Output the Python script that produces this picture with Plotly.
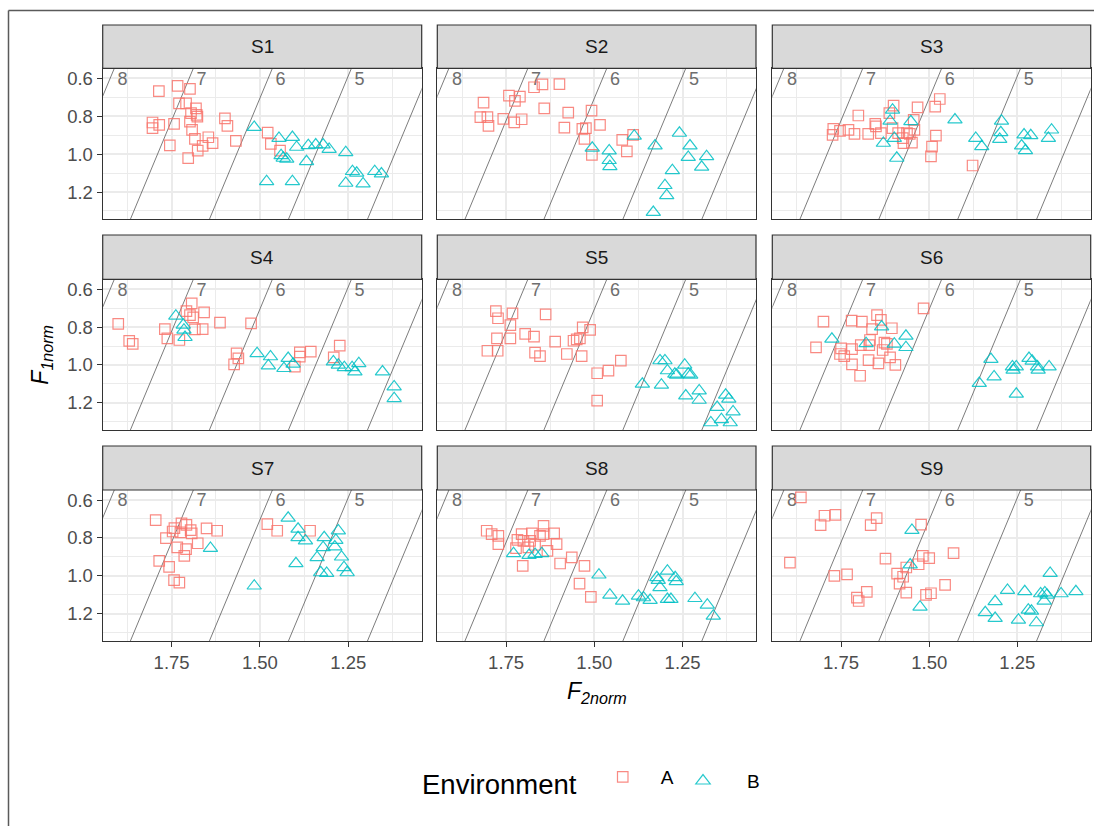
import plotly.graph_objects as go

# ---------------------------------------------------------------------------
# Normalised formant data per speaker (S1..S9) and environment (A / B)
# ---------------------------------------------------------------------------
speakers = ["S1", "S2", "S3", "S4", "S5", "S6", "S7", "S8", "S9"]
environments = ["A", "B"]

S1_A_F2 = [1.786, 1.733, 1.698, 1.729, 1.709, 1.681, 1.695, 1.679, 1.677, 1.804, 1.804, 1.785, 1.743, 1.698,
           1.692, 1.684, 1.755, 1.703, 1.676, 1.662, 1.646, 1.634, 1.599, 1.592, 1.568, 1.478, 1.469, 1.443]
S1_A_F1 = [0.667, 0.640, 0.656, 0.732, 0.732, 0.758, 0.784, 0.793, 0.802, 0.833, 0.863, 0.846, 0.840, 0.828,
           0.872, 0.919, 0.954, 1.021, 0.982, 0.956, 0.911, 0.942, 0.811, 0.851, 0.930, 0.886, 0.946, 0.982]
S1_B_F2 = [1.516, 1.446, 1.408, 1.396, 1.363, 1.342, 1.321, 1.304, 1.257, 1.440, 1.434, 1.424, 1.368, 1.481,
           1.408, 1.238, 1.226, 1.257, 1.208, 1.175, 1.156]
S1_B_F1 = [0.858, 0.916, 0.911, 0.963, 0.954, 0.951, 0.951, 0.974, 0.991, 1.007, 1.021, 1.026, 1.039, 1.144,
           1.144, 1.091, 1.100, 1.153, 1.156, 1.091, 1.104]

S2_A_F2 = [1.814, 1.823, 1.803, 1.800, 1.742, 1.725, 1.711, 1.758, 1.727, 1.706, 1.671, 1.647, 1.599, 1.642,
           1.574, 1.508, 1.585, 1.534, 1.524, 1.484, 1.528, 1.507, 1.421, 1.390, 1.408]
S2_A_F1 = [0.728, 0.805, 0.805, 0.851, 0.691, 0.719, 0.696, 0.814, 0.832, 0.816, 0.647, 0.632, 0.630, 0.758,
           0.781, 0.770, 0.860, 0.867, 0.863, 0.846, 0.919, 1.004, 0.925, 0.898, 0.986]
S2_B_F2 = [1.506, 1.458, 1.458, 1.456, 1.387, 1.328, 1.259, 1.229, 1.234, 1.182, 1.196, 1.279, 1.300, 1.295, 1.333]
S2_B_F1 = [0.968, 0.982, 1.033, 1.065, 0.904, 0.956, 0.889, 0.956, 1.016, 1.012, 1.068, 1.086, 1.165, 1.218, 1.307]

S3_A_F2 = [1.470, 1.483, 1.533, 1.601, 1.613, 1.701, 1.772, 1.774, 1.753, 1.729, 1.712, 1.673, 1.653, 1.651,
           1.637, 1.604, 1.588, 1.575, 1.563, 1.549, 1.573, 1.544, 1.542, 1.481, 1.492, 1.495, 1.377, 1.555]
S3_A_F1 = [0.709, 0.749, 0.753, 0.744, 0.784, 0.796, 0.867, 0.898, 0.877, 0.872, 0.893, 0.893, 0.840, 0.854,
           0.889, 0.863, 0.889, 0.916, 0.889, 0.939, 0.942, 0.819, 0.872, 0.902, 0.960, 1.012, 1.060, 0.893]
S3_B_F2 = [1.604, 1.611, 1.552, 1.599, 1.630, 1.592, 1.427, 1.368, 1.351, 1.295, 1.297, 1.300, 1.231, 1.212,
           1.238, 1.227, 1.153, 1.162]
S3_B_F1 = [0.767, 0.825, 0.828, 0.916, 0.942, 1.021, 0.819, 0.916, 0.960, 0.825, 0.886, 0.921, 0.898, 0.902,
           0.956, 0.981, 0.872, 0.916]

S4_A_F2 = [1.901, 1.870, 1.860, 1.769, 1.762, 1.728, 1.708, 1.693, 1.698, 1.689, 1.658, 1.684, 1.662, 1.613,
           1.525, 1.566, 1.561, 1.573, 1.387, 1.387, 1.356, 1.401, 1.274, 1.291]
S4_A_F1 = [0.783, 0.873, 0.889, 0.810, 0.859, 0.868, 0.715, 0.674, 0.736, 0.748, 0.722, 0.812, 0.810, 0.776,
           0.780, 0.939, 0.965, 0.997, 0.933, 0.956, 0.930, 1.009, 0.898, 0.960]
S4_B_F2 = [1.738, 1.717, 1.715, 1.712, 1.508, 1.470, 1.476, 1.420, 1.432, 1.406, 1.292, 1.278, 1.261, 1.239,
           1.231, 1.220, 1.153, 1.120, 1.120]
S4_B_F1 = [0.741, 0.789, 0.815, 0.854, 0.939, 0.956, 1.004, 0.965, 1.018, 0.995, 0.983, 1.000, 1.013, 1.013,
           1.036, 0.992, 1.036, 1.115, 1.177]

S5_A_F2 = [1.779, 1.773, 1.732, 1.738, 1.638, 1.776, 1.738, 1.803, 1.774, 1.696, 1.671, 1.668, 1.654, 1.611,
           1.578, 1.559, 1.550, 1.541, 1.533, 1.512, 1.536, 1.492, 1.460, 1.425, 1.492]
S5_A_F1 = [0.715, 0.753, 0.727, 0.789, 0.732, 0.859, 0.859, 0.925, 0.925, 0.836, 0.850, 0.935, 0.953, 0.877,
           0.942, 0.872, 0.865, 0.859, 0.801, 0.815, 0.953, 1.044, 1.030, 0.977, 1.189]
S5_B_F2 = [1.314, 1.300, 1.293, 1.272, 1.267, 1.244, 1.234, 1.227, 1.364, 1.310, 1.241, 1.203, 1.203, 1.128,
           1.119, 1.152, 1.107, 1.170, 1.140, 1.115]
S5_B_F1 = [0.977, 0.977, 1.030, 1.048, 1.053, 1.000, 1.048, 1.053, 1.101, 1.106, 1.163, 1.136, 1.186, 1.159,
           1.180, 1.224, 1.247, 1.305, 1.288, 1.305]

S6_A_F2 = [1.516, 1.800, 1.720, 1.691, 1.648, 1.637, 1.662, 1.606, 1.668, 1.694, 1.821, 1.750, 1.753, 1.741,
           1.719, 1.670, 1.627, 1.620, 1.632, 1.611, 1.672, 1.644, 1.596, 1.719, 1.696]
S6_A_F1 = [0.701, 0.771, 0.766, 0.771, 0.736, 0.762, 0.810, 0.806, 0.868, 0.895, 0.907, 0.912, 0.942, 0.953,
           0.916, 0.895, 0.882, 0.889, 0.921, 0.960, 0.974, 0.992, 1.000, 0.997, 1.057]
S6_B_F2 = [1.776, 1.679, 1.635, 1.599, 1.566, 1.566, 1.325, 1.358, 1.316, 1.264, 1.262, 1.253, 1.253, 1.217,
           1.208, 1.193, 1.191, 1.160]
S6_B_F1 = [0.863, 0.886, 0.798, 0.889, 0.847, 0.907, 0.970, 1.097, 1.062, 1.009, 1.027, 1.009, 1.154, 0.965,
           0.979, 1.009, 1.027, 1.009]

S7_A_F2 = [1.795, 1.742, 1.747, 1.722, 1.708, 1.696, 1.693, 1.766, 1.725, 1.734, 1.709, 1.714, 1.785, 1.757,
           1.743, 1.728, 1.676, 1.651, 1.621, 1.479, 1.451, 1.358]
S7_A_F1 = [0.706, 0.748, 0.766, 0.723, 0.731, 0.759, 0.776, 0.801, 0.771, 0.850, 0.859, 0.895, 0.921, 0.953,
           1.023, 1.036, 0.828, 0.750, 0.762, 0.727, 0.762, 0.762]
S7_B_F2 = [1.640, 1.516, 1.420, 1.392, 1.392, 1.371, 1.398, 1.318, 1.321, 1.278, 1.285, 1.288, 1.338, 1.269,
           1.328, 1.311, 1.262, 1.253]
S7_B_F1 = [0.854, 1.053, 0.695, 0.753, 0.798, 0.815, 0.935, 0.798, 0.850, 0.762, 0.812, 0.847, 0.903, 0.900,
           0.983, 0.986, 0.956, 0.983]

S8_A_F2 = [1.805, 1.791, 1.772, 1.772, 1.722, 1.718, 1.706, 1.701, 1.682, 1.677, 1.668, 1.654, 1.644, 1.644,
           1.614, 1.607, 1.633, 1.703, 1.597, 1.564, 1.528, 1.542, 1.510, 1.687]
S8_A_F1 = [0.762, 0.780, 0.789, 0.833, 0.854, 0.810, 0.780, 0.815, 0.815, 0.776, 0.836, 0.789, 0.736, 0.780,
           0.776, 0.833, 0.868, 0.947, 0.935, 0.903, 0.947, 1.041, 1.111, 0.850]
S8_B_F2 = [1.729, 1.685, 1.668, 1.649, 1.487, 1.456, 1.420, 1.375, 1.361, 1.342, 1.323, 1.319, 1.293, 1.314,
           1.293, 1.283, 1.271, 1.268, 1.215, 1.180, 1.163]
S8_B_F1 = [0.882, 0.891, 0.886, 0.882, 0.995, 1.101, 1.133, 1.106, 1.115, 1.129, 1.009, 1.023, 0.974, 1.062,
           1.124, 1.124, 1.009, 1.030, 1.119, 1.154, 1.212]

S9_A_F2 = [1.864, 1.797, 1.808, 1.766, 1.649, 1.666, 1.895, 1.769, 1.733, 1.705, 1.700, 1.677, 1.624, 1.523,
           1.591, 1.584, 1.574, 1.565, 1.565, 1.530, 1.518, 1.500, 1.509, 1.495, 1.455, 1.431]
S9_A_F1 = [0.586, 0.683, 0.732, 0.678, 0.695, 0.732, 0.930, 1.000, 0.992, 1.115, 1.133, 1.085, 0.909, 0.730,
           0.988, 1.041, 1.005, 0.956, 1.089, 0.939, 0.895, 0.907, 1.101, 1.092, 1.048, 0.880]
S9_B_F2 = [1.549, 1.554, 1.526, 1.278, 1.313, 1.341, 1.313, 1.247, 1.229, 1.219, 1.210, 1.196, 1.184, 1.172,
           1.174, 1.157, 1.126, 1.084, 1.166]
S9_B_F1 = [0.759, 0.942, 1.164, 1.076, 1.136, 1.194, 1.224, 1.233, 1.083, 1.180, 1.186, 1.247, 1.094, 1.089,
           1.133, 0.986, 1.094, 1.083, 1.101]

# Reference lines F1 = slope * F2 - level, labelled by level
iso_levels = [4, 5, 6, 7, 8]
iso_labels = [8, 7, 6, 5]
iso_slope = 4.47

# Axis ticks
x_ticks = [1.75, 1.50, 1.25]
x_ticktext = ["1.75", "1.50", "1.25"]
x_minor = [1.875, 1.625, 1.375, 1.125]
y_ticks = [0.6, 0.8, 1.0, 1.2]
y_ticktext = ["0.6", "0.8", "1.0", "1.2"]
y_minor = [0.7, 0.9, 1.1, 1.3]

data = {
    ("S1", "A"): (S1_A_F2, S1_A_F1), ("S1", "B"): (S1_B_F2, S1_B_F1),
    ("S2", "A"): (S2_A_F2, S2_A_F1), ("S2", "B"): (S2_B_F2, S2_B_F1),
    ("S3", "A"): (S3_A_F2, S3_A_F1), ("S3", "B"): (S3_B_F2, S3_B_F1),
    ("S4", "A"): (S4_A_F2, S4_A_F1), ("S4", "B"): (S4_B_F2, S4_B_F1),
    ("S5", "A"): (S5_A_F2, S5_A_F1), ("S5", "B"): (S5_B_F2, S5_B_F1),
    ("S6", "A"): (S6_A_F2, S6_A_F1), ("S6", "B"): (S6_B_F2, S6_B_F1),
    ("S7", "A"): (S7_A_F2, S7_A_F1), ("S7", "B"): (S7_B_F2, S7_B_F1),
    ("S8", "A"): (S8_A_F2, S8_A_F1), ("S8", "B"): (S8_B_F2, S8_B_F1),
    ("S9", "A"): (S9_A_F2, S9_A_F1), ("S9", "B"): (S9_B_F2, S9_B_F1),
}

# ---------------------------------------------------------------------------
# Layout geometry (pixels) and styling
# ---------------------------------------------------------------------------
W, H = 1094, 826
col_px = [(102.7, 421.7), (437.3, 756.0), (772.3, 1090.7)]
row_px = [(68.3, 219.3), (279.3, 430.0), (490.0, 641.0)]
strip_top_px = [25.0, 235.0, 446.0]
x_range = [1.945, 1.042]
y_range = [1.344, 0.547]

FONT = "Liberation Sans, Arial, sans-serif"
env_style = {
    "A": dict(symbol="square-open", color="#F8766D", size=10.5, legend="legend"),
    "B": dict(symbol="triangle-up-open", color="#00BFC4", size=12.5, legend="legend2"),
}
BORDER = "#333333"
GRID = "#EBEBEB"


def px_x(p):
    return p / W


def px_y(p):
    return 1 - p / H


fig = go.Figure()
layout = dict(
    width=W, height=H,
    margin=dict(l=0, r=0, t=0, b=0),
    paper_bgcolor="white", plot_bgcolor="white",
    font=dict(family=FONT, color="#1A1A1A"),
    showlegend=True,
)
shapes = []
annotations = []

for i, spk in enumerate(speakers):
    r, c = divmod(i, 3)
    idx = i + 1
    xa = "x" if idx == 1 else f"x{idx}"
    ya = "y" if idx == 1 else f"y{idx}"
    bottom = r == 2
    left = c == 0

    layout[f"xaxis{'' if idx == 1 else idx}"] = dict(
        domain=[px_x(col_px[c][0]), px_x(col_px[c][1])],
        anchor=ya, range=x_range, autorange=False,
        tickvals=x_ticks, ticktext=x_ticktext,
        showticklabels=bottom, ticks="outside" if bottom else "",
        ticklen=5, tickwidth=1.2, tickcolor=BORDER,
        tickfont=dict(size=18.5, color="#4D4D4D", family=FONT),
        showline=True, linecolor=BORDER, linewidth=1.2, mirror=True,
        showgrid=True, gridcolor=GRID, gridwidth=1.6, zeroline=False,
        minor=dict(tickvals=x_minor, showgrid=True, gridcolor=GRID, gridwidth=0.8, ticks=""),
    )
    layout[f"yaxis{'' if idx == 1 else idx}"] = dict(
        domain=[px_y(row_px[r][1]), px_y(row_px[r][0])],
        anchor=xa, range=y_range, autorange=False,
        tickvals=y_ticks, ticktext=y_ticktext,
        showticklabels=left, ticks="outside" if left else "",
        ticklen=5, tickwidth=1.2, tickcolor=BORDER,
        tickfont=dict(size=18.5, color="#4D4D4D", family=FONT),
        showline=True, linecolor=BORDER, linewidth=1.2, mirror=True,
        showgrid=True, gridcolor=GRID, gridwidth=1.6, zeroline=False,
        minor=dict(tickvals=y_minor, showgrid=True, gridcolor=GRID, gridwidth=0.8, ticks=""),
    )

    # reference lines
    for k in iso_levels:
        f1_ends = [0.3, 1.6]
        fig.add_trace(go.Scatter(
            x=[(f1 + k) / iso_slope for f1 in f1_ends], y=f1_ends,
            mode="lines", line=dict(color="#5A5A5A", width=0.8),
            xaxis=xa, yaxis=ya, showlegend=False, hoverinfo="skip",
        ))
    label_f1 = 0.609
    fig.add_trace(go.Scatter(
        x=[(label_f1 + k) / iso_slope - 0.037 for k in iso_labels],
        y=[label_f1] * len(iso_labels),
        text=[str(k) for k in iso_labels], mode="text",
        textfont=dict(size=18, color="#6E6E6E", family=FONT),
        xaxis=xa, yaxis=ya, showlegend=False, hoverinfo="skip",
    ))

    # data points
    for env in environments:
        f2, f1 = data[(spk, env)]
        st = env_style[env]
        fig.add_trace(go.Scatter(
            x=f2, y=f1, mode="markers", name=env, legendgroup=env,
            legend=st["legend"], showlegend=(i == 0),
            marker=dict(symbol=st["symbol"], size=st["size"], color=st["color"],
                        opacity=0.85, line=dict(width=1.2, color=st["color"])),
            xaxis=xa, yaxis=ya,
        ))

    # facet strip
    shapes.append(dict(
        type="rect", xref="paper", yref="paper",
        x0=px_x(col_px[c][0]), x1=px_x(col_px[c][1]),
        y0=px_y(row_px[r][0]), y1=px_y(strip_top_px[r]),
        fillcolor="#D9D9D9", line=dict(color=BORDER, width=1.2), layer="above",
    ))
    annotations.append(dict(
        text=spk, xref="paper", yref="paper",
        x=px_x((col_px[c][0] + col_px[c][1]) / 2),
        y=px_y((strip_top_px[r] + row_px[r][0]) / 2),
        showarrow=False, font=dict(size=19, color="#1A1A1A", family=FONT),
        xanchor="center", yanchor="middle",
    ))

# axis titles
annotations.append(dict(
    text="<i>F</i><sub><i>2norm</i></sub>", xref="paper", yref="paper",
    x=px_x((col_px[0][0] + col_px[2][1]) / 2), y=px_y(692),
    showarrow=False, font=dict(size=23, color="black", family=FONT),
    xanchor="center", yanchor="middle",
))
annotations.append(dict(
    text="<i>F</i><sub><i>1norm</i></sub>", xref="paper", yref="paper",
    x=px_x(42), y=px_y((row_px[0][0] + row_px[2][1]) / 2),
    showarrow=False, textangle=-90, font=dict(size=23, color="black", family=FONT),
    xanchor="center", yanchor="middle",
))

# page frame
shapes.append(dict(type="line", xref="paper", yref="paper",
                   x0=px_x(8.5), x1=1.0, y0=px_y(10.5), y1=px_y(10.5),
                   line=dict(color="#5A5A5A", width=1.5)))
shapes.append(dict(type="line", xref="paper", yref="paper",
                   x0=px_x(8.5), x1=px_x(8.5), y0=px_y(10.5), y1=0.0,
                   line=dict(color="#5A5A5A", width=1.5)))

layout["shapes"] = shapes
layout["annotations"] = annotations
legend_common = dict(
    orientation="h", xanchor="left", yanchor="middle",
    font=dict(size=19, color="black", family=FONT),
    bgcolor="rgba(0,0,0,0)", tracegroupgap=0,
)
layout["legend"] = dict(
    legend_common, x=px_x(420), y=px_y(781), itemwidth=66,
    title=dict(text="Environment", side="left", font=dict(size=27.5, color="black", family=FONT)),
)
layout["legend2"] = dict(legend_common, x=px_x(659), y=px_y(781), itemwidth=78)
fig.update_layout(**layout)

fig.write_html("out.html")
